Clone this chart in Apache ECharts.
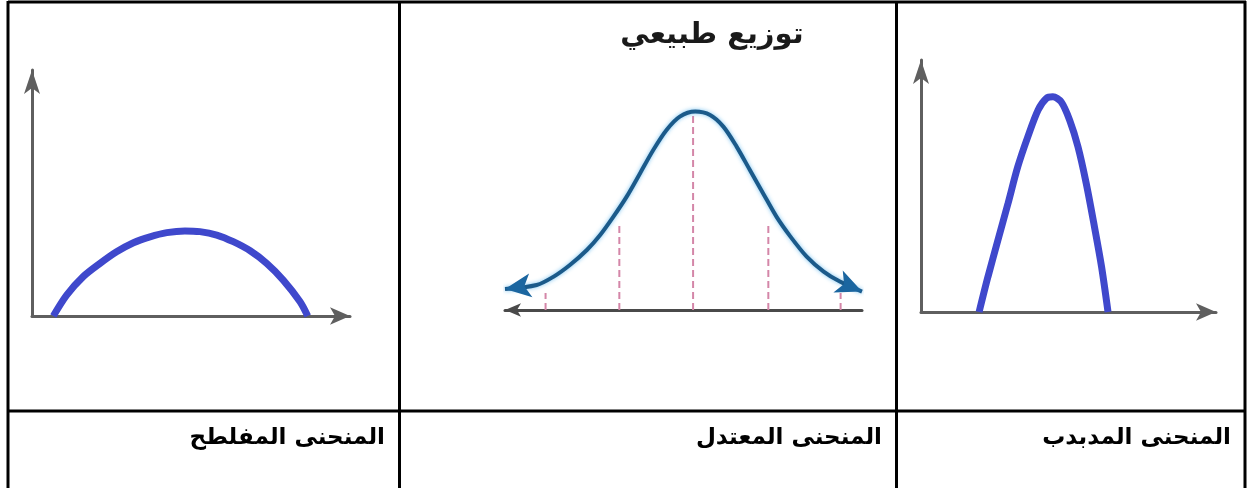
<!DOCTYPE html>
<html>
<head>
<meta charset="utf-8">
<script src="https://cdn.jsdelivr.net/npm/echarts@6/dist/echarts.min.js"></script>
<style>
body { margin: 0; background: #fff; }
#main { width: 1247px; height: 488px; }
</style>
</head>
<body>
<div id="main"></div>
<script>
// المنحنى المفلطح (left cell), x / y in 0..100 plot units
var flatX = [6.7, 10.9, 16.1, 21.4, 26.6, 31.9, 37.1, 42.4, 48.1, 52.8, 58.1, 63.3, 68.6, 73.8, 79.0, 84.3, 86.7];
var flatY = [0, 8.5, 16.0, 21.4, 26.1, 29.8, 32.2, 33.9, 34.6, 34.3, 32.9, 30.2, 26.5, 21.4, 14.6, 5.8, 0];

// توزيع طبيعي (middle cell), x in sigma units, first/last point carry the arrow heads
var normX = [-2.55, -2.12, -1.89, -1.67, -1.44, -1.26, -1.08, -0.90, -0.72, -0.54, -0.36, -0.18, 0.03, 0.23, 0.41, 0.59, 0.77, 0.95, 1.13, 1.32, 1.54, 1.77, 1.99, 2.29];
var normY = [10.5, 12.5, 16.7, 22.5, 30, 37.5, 46.7, 56.7, 68.3, 80, 90, 96.7, 99.2, 97.5, 91.7, 81.7, 70, 58.3, 46.7, 36.7, 26.7, 19.2, 14.2, 9.2];
var dashX = [-2.0, -1.0, 0, 1.02, 2.0];
var dashTop = [8.5, 42.5, 98.5, 42.5, 8.5];

// المنحنى المدبدب (right cell)
var peakX = [19.7, 22.7, 26.1, 29.5, 32.8, 36.2, 39.7, 42.5, 44.7, 47.5, 50.4, 53.2, 56.0, 58.8, 61.2, 63.4];
var peakY = [0, 14.0, 28.6, 43.1, 57.6, 69.5, 80.2, 84.8, 85.4, 83.4, 76.1, 65.6, 51.1, 33.8, 18.0, 0];

var labels = ['المنحنى المفلطح', 'المنحنى المعتدل', 'المنحنى المدبدب'];
var title = 'توزيع طبيعي';

var myChart = echarts.init(document.getElementById('main'));

function pairs(xs, ys) {
	var res = [];
	for (var i = 0; i < xs.length; i++) {
		res.push([xs[i], ys[i]]);
	}
	return res;
}

var axisGrey = '#5f5f5f';
var curveBlue = '#3f48cc';

function plainAxis(grid, min, max, sym, symSize, color) {
	return {
		type : 'value',
		gridIndex : grid,
		min : min,
		max : max,
		axisLine : {
			show : true,
			symbol : sym,
			symbolSize : symSize,
			lineStyle : { color : color, width : 3 }
		},
		axisTick : { show : false },
		axisLabel : { show : false },
		splitLine : { show : false }
	};
}

var normData = pairs(normX, normY);
normData[0] = {
	value : normData[0],
	symbol : 'arrow',
	symbolSize : [18, 26],
	symbolRotate : 98
};
normData[normData.length - 1] = {
	value : normData[normData.length - 1],
	symbol : 'arrow',
	symbolSize : [18, 26],
	symbolRotate : -113
};

var series = [ {
	type : 'line',
	xAxisIndex : 0,
	yAxisIndex : 0,
	data : pairs(flatX, flatY),
	smooth : 0.3,
	showSymbol : false,
	lineStyle : { color : curveBlue, width : 7 },
	z : 3
}, {
	type : 'line',
	xAxisIndex : 2,
	yAxisIndex : 2,
	data : pairs(peakX, peakY),
	smooth : 0.3,
	showSymbol : false,
	lineStyle : { color : curveBlue, width : 7 },
	z : 3
} ];

// dashed guides under the bell curve
for (var i = 0; i < dashX.length; i++) {
	series.push({
		type : 'line',
		xAxisIndex : 1,
		yAxisIndex : 1,
		data : [ [ dashX[i], 0 ], [ dashX[i], dashTop[i] ] ],
		showSymbol : false,
		lineStyle : { color : '#d486a8', width : 2, type : [ 7, 4 ] },
		z : 1
	});
}

series.push({
	type : 'line',
	xAxisIndex : 1,
	yAxisIndex : 1,
	data : normData,
	smooth : 0.3,
	symbol : 'none',
	clip : false,
	itemStyle : { color : '#1b66a0' },
	lineStyle : {
		color : '#1b5a8a',
		width : 4,
		shadowColor : 'rgba(110,190,240,0.9)',
		shadowBlur : 4
	},
	z : 3
});

var option = {
	backgroundColor : '#fff',
	animation : false,
	grid : [ {
		left : 32, top : 70, width : 318, height : 246
	}, {
		left : 505, top : 110, width : 357, height : 200
	}, {
		left : 921, top : 60, width : 295, height : 252
	} ],
	xAxis : [
		plainAxis(0, 0, 100, [ 'none', 'arrow' ], [ 13, 20 ], axisGrey),
		plainAxis(1, -2.55, 2.29, [ 'arrow', 'none' ], [ 10, 16 ], '#4a4a4a'),
		plainAxis(2, 0, 100, [ 'none', 'arrow' ], [ 13, 20 ], axisGrey)
	],
	yAxis : [
		plainAxis(0, 0, 100, [ 'none', 'arrow' ], [ 12, 24 ], axisGrey),
		{ type : 'value', gridIndex : 1, min : 0, max : 100, show : false },
		plainAxis(2, 0, 100, [ 'none', 'arrow' ], [ 12, 24 ], axisGrey)
	],
	series : series,
	graphic : [
		// table borders
		{ type : 'line', shape : { x1 : 8, y1 : 2, x2 : 1246, y2 : 2 }, style : { stroke : '#000', lineWidth : 3 } },
		{ type : 'line', shape : { x1 : 8, y1 : 411, x2 : 1246, y2 : 411 }, style : { stroke : '#000', lineWidth : 3 } },
		{ type : 'line', shape : { x1 : 8, y1 : 1, x2 : 8, y2 : 488 }, style : { stroke : '#000', lineWidth : 3 } },
		{ type : 'line', shape : { x1 : 399.5, y1 : 1, x2 : 399.5, y2 : 488 }, style : { stroke : '#000', lineWidth : 3 } },
		{ type : 'line', shape : { x1 : 896.5, y1 : 1, x2 : 896.5, y2 : 488 }, style : { stroke : '#000', lineWidth : 3 } },
		{ type : 'line', shape : { x1 : 1245, y1 : 1, x2 : 1245, y2 : 488 }, style : { stroke : '#000', lineWidth : 3 } },
		// title of the middle picture
		{
			type : 'text', x : 712, y : 35,
			style : {
				text : title, fill : '#1a1a1a', align : 'center', verticalAlign : 'middle',
				font : 'bold 29px "DejaVu Sans"'
			}
		},
		// row labels
		{
			type : 'text', x : 385, y : 438,
			style : { text : labels[0], fill : '#000', align : 'right', verticalAlign : 'middle', font : 'bold 23px "DejaVu Sans"' }
		},
		{
			type : 'text', x : 882, y : 438,
			style : { text : labels[1], fill : '#000', align : 'right', verticalAlign : 'middle', font : 'bold 23px "DejaVu Sans"' }
		},
		{
			type : 'text', x : 1231, y : 438,
			style : { text : labels[2], fill : '#000', align : 'right', verticalAlign : 'middle', font : 'bold 23px "DejaVu Sans"' }
		}
	]
};

myChart.setOption(option);
</script>
</body>
</html>
